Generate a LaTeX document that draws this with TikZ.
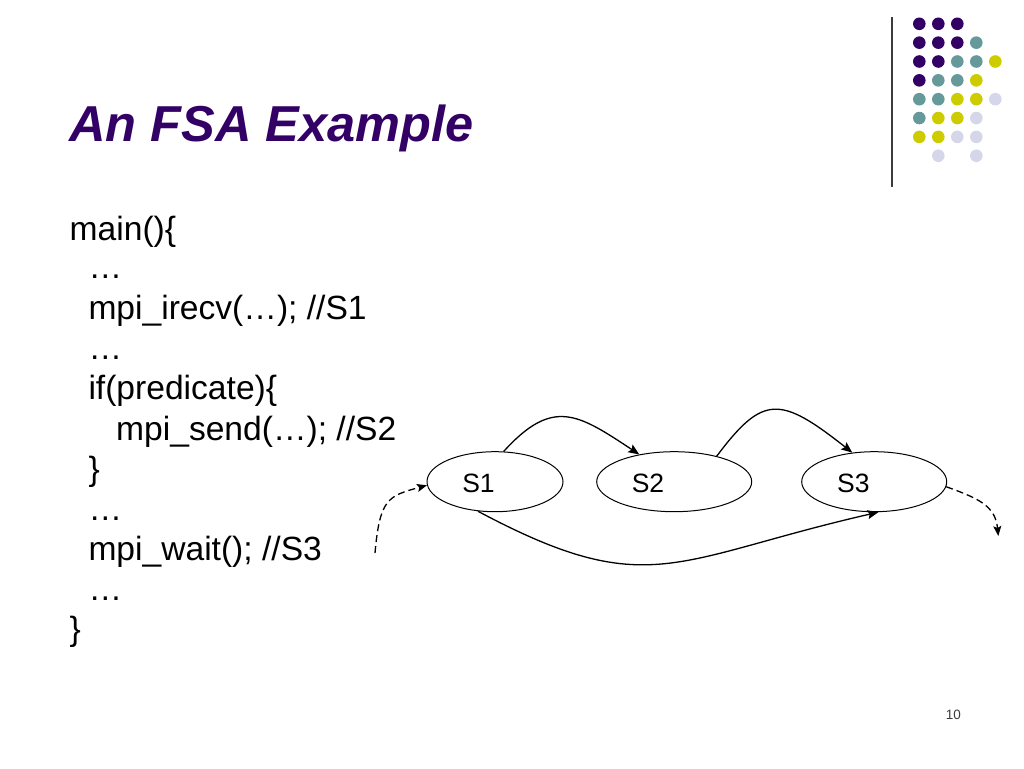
\documentclass[tikz,border=0pt]{standalone}
\usepackage{fontspec}
\setmainfont{Liberation Sans}
\usetikzlibrary{arrows.meta,shapes.geometric}
\definecolor{titlepurple}{RGB}{51,0,102}
\definecolor{dotpurple}{RGB}{51,0,102}
\definecolor{dotteal}{RGB}{102,153,153}
\definecolor{dotyellow}{RGB}{204,204,0}
\definecolor{dotlav}{RGB}{214,214,234}
\definecolor{pagegray}{RGB}{60,60,60}
\begin{document}
\begin{tikzpicture}[x=1pt,y=1pt,
  state/.style={draw, ellipse, inner sep=0pt, line width=1pt, minimum height=60pt},
  statelabel/.style={inner sep=0pt, anchor=base, font=\fontsize{26.5}{30}\selectfont},
  codeline/.style={inner sep=0pt, anchor=base west, font=\fontsize{33.6}{40}\selectfont},
  trans/.style={line width=1.3pt, -{Stealth[length=11pt,width=9pt,inset=2pt]}},
  dtrans/.style={line width=1.3pt, dash pattern=on 7pt off 4pt, -{Stealth[length=10pt,width=8pt,inset=2pt]}},
  gridline/.style={draw=pagegray, line width=1.3pt}
]
\useasboundingbox (0,0) rectangle (1024,-768);

% decoration: vertical rule and dot grid
\draw[gridline] (892,-17) -- (892,-187);
\foreach \r/\c/\col in {
  0/0/dotpurple,0/1/dotpurple,0/2/dotpurple,
  1/0/dotpurple,1/1/dotpurple,1/2/dotpurple,1/3/dotteal,
  2/0/dotpurple,2/1/dotpurple,2/2/dotteal,2/3/dotteal,2/4/dotyellow,
  3/0/dotpurple,3/1/dotteal,3/2/dotteal,3/3/dotyellow,
  4/0/dotteal,4/1/dotteal,4/2/dotyellow,4/3/dotyellow,4/4/dotlav,
  5/0/dotteal,5/1/dotyellow,5/2/dotyellow,5/3/dotlav,
  6/0/dotyellow,6/1/dotyellow,6/2/dotlav,6/3/dotlav,
  7/1/dotlav,7/3/dotlav}
  \fill[\col] ({919.3+19*\c},{-23.8-18.85*\r}) circle[radius=6.3];

% title
\node[anchor=base west, inner sep=0pt, text=titlepurple,
      font=\fontsize{50.5}{60}\selectfont\bfseries\itshape] (title) at (69,-141.7) {An FSA Example};

% code
\node[codeline] (code0)  at (69.5,-240) {main()\{};
\node[codeline] (code1)  at (88.3,-278) {…};
\node[codeline] (code2)  at (88.3,-319) {mpi\_irecv(…); //S1};
\node[codeline] (code3)  at (88.3,-359) {…};
\node[codeline] (code4)  at (88.3,-399) {if(predicate)\{};
\node[codeline] (code5)  at (116,-440)  {mpi\_send(…); //S2};
\node[codeline] (code6)  at (88.3,-480) {\}};
\node[codeline] (code7)  at (88.3,-520) {…};
\node[codeline] (code8)  at (88.3,-560) {mpi\_wait(); //S3};
\node[codeline] (code9)  at (88.3,-600) {…};
\node[codeline] (code10) at (69.5,-640) {\}};

% states
\node[state, minimum width=136pt] (s1) at (495,-481.7) {};
\node[state, minimum width=155pt] (s2) at (674.2,-481.7) {};
\node[state, minimum width=145pt] (s3) at (874.2,-481.7) {};
\node[statelabel] (l1) at (478.5,-492.5) {S1};
\node[statelabel] (l2) at (648,-492.8) {S2};
\node[statelabel] (l3) at (853.3,-492.5) {S3};

% transitions
\draw[trans] (s1.74) .. controls (553,-397) and (578,-414) .. (s2.142);
\draw[trans] (s2.31) .. controls (763,-394.5) and (779.9,-395.6) .. (s3.127);
\draw[trans] (s1.240) .. controls (648.9,-602.3) and (672.2,-559.3) .. (s3.278);
\coordinate (in0) at (375,-553);
\coordinate (out0) at (998.3,-536);
\draw[dtrans] (in0) .. controls (379.8,-498.2) and (388.3,-496) .. (s1.183);
\draw[dtrans] (s3.-4) .. controls (979.6,-498.7) and (995.3,-506.2) .. (out0);

% page number
\node[anchor=base east, inner sep=0pt, text=pagegray, font=\fontsize{13.5}{16}\selectfont] (pagenum) at (961,-719.3) {10};
\end{tikzpicture}
\end{document}
